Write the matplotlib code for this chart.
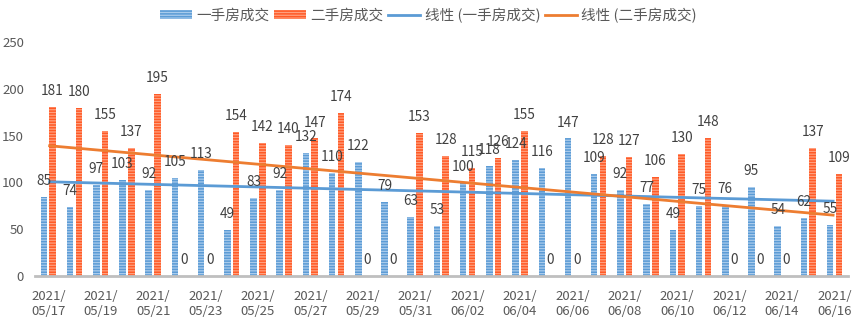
import matplotlib
matplotlib.use("Agg")
import matplotlib.pyplot as plt
import numpy as np
from matplotlib.lines import Line2D
from matplotlib.patches import Patch

plt.rcParams['font.family'] = ['Noto Sans CJK SC', 'DejaVu Sans']
plt.rcParams['hatch.linewidth'] = 0.9

dates = ["05/17", "05/18", "05/19", "05/20", "05/21", "05/22", "05/23", "05/24",
         "05/25", "05/26", "05/27", "05/28", "05/29", "05/30", "05/31", "06/01",
         "06/02", "06/03", "06/04", "06/05", "06/06", "06/07", "06/08", "06/09",
         "06/10", "06/11", "06/12", "06/13", "06/14", "06/15", "06/16"]
new_home = [85, 74, 97, 103, 92, 105, 113, 49, 83, 92, 132, 110, 122, 79, 63, 53,
            100, 118, 124, 116, 147, 109, 92, 77, 49, 75, 76, 95, 54, 62, 55]
second_home = [181, 180, 155, 137, 195, 0, 0, 154, 142, 140, 147, 174, 0, 0, 153, 128,
               115, 126, 155, 0, 0, 128, 127, 106, 130, 148, 0, 0, 0, 137, 109]
series_names = ["一手房成交", "二手房成交"]
trend_names = ["线性 (一手房成交)", "线性 (二手房成交)"]
y_ticks = [0, 50, 100, 150, 200, 250]

blue = "#5b9bd5"
blue_stripe = "#a9cbec"
orange = "#ff5a26"
orange_stripe = "#ffa07f"
blue_line = "#5b9bd5"
orange_line = "#ed7d31"
txt = "#404040"

fig = plt.figure(figsize=(8.57, 3.24), dpi=100)
ax = fig.add_axes([0.041, 0.148, 0.948, 0.722])

x = np.arange(len(dates))
w = 0.25
off = 0.167
ax.bar(x - off, new_home, w, color=blue, edgecolor=blue_stripe, hatch='-' * 6, linewidth=0, zorder=2)
ax.bar(x + off, second_home, w, color=orange, edgecolor=orange_stripe, hatch='-' * 6, linewidth=0, zorder=2)

for xi, v in zip(x - off, new_home):
    ax.annotate(str(v), (xi, v), xytext=(0, 11.5), textcoords='offset points',
                ha='center', va='center', fontsize=9.8, color=txt, zorder=5)
for xi, v in zip(x + off, second_home):
    ax.annotate(str(v), (xi, v), xytext=(0, 11.5), textcoords='offset points',
                ha='center', va='center', fontsize=9.8, color=txt, zorder=5)

# linear trend lines
for vals, col in [(new_home, blue_line), (second_home, orange_line)]:
    k, b = np.polyfit(x, vals, 1)
    ax.plot(x, k * x + b, color=col, linewidth=2.0, zorder=4, solid_capstyle='butt')

ax.set_xlim(-0.5, len(dates) - 0.5)
ax.set_ylim(0, 250)
ax.set_yticks(y_ticks)
ax.set_yticklabels([str(t) for t in y_ticks])
ax.tick_params(axis='y', length=0, pad=8, labelsize=9.5, labelcolor="#595959")
ax.set_xticks(x[::2])
ax.set_xticklabels(["2021/\n" + d for d in dates[::2]], fontsize=9.5, color="#595959", linespacing=1.25)
ax.tick_params(axis='x', length=0, pad=10)
for s in ['top', 'right', 'left']:
    ax.spines[s].set_visible(False)
ax.spines['bottom'].set_color("#bfbfbf")
ax.spines['bottom'].set_linewidth(2.0)

handles = [
    Patch(facecolor=blue, edgecolor=blue_stripe, hatch='-' * 6, linewidth=0),
    Patch(facecolor=orange, edgecolor=orange_stripe, hatch='-' * 6, linewidth=0),
    Line2D([0], [0], color=blue_line, linewidth=2.0),
    Line2D([0], [0], color=orange_line, linewidth=2.0),
]
fig.legend(handles, series_names + trend_names, loc='center', bbox_to_anchor=(0.5, 0.953),
           ncol=4, frameon=False, fontsize=10.5, labelcolor="#595959",
           handlelength=2.2, handleheight=0.6, handletextpad=0.3, columnspacing=0.3)

fig.savefig("out.png", dpi=100)
